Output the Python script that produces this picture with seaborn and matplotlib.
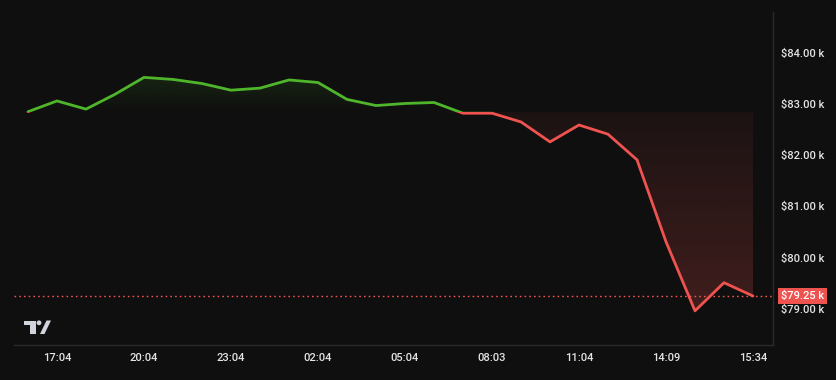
import numpy as np
import pandas as pd
import matplotlib
matplotlib.use("Agg")
import matplotlib.pyplot as plt
from matplotlib.patches import Rectangle, Polygon, Circle
import matplotlib.transforms as mtransforms
import seaborn as sns

# ---- data (price in $ thousands, hourly points) ----
prices = [82.85, 83.06, 82.90, 83.19, 83.52, 83.48, 83.40, 83.27, 83.31, 83.47,
          83.42, 83.09, 82.97, 83.01, 83.03, 82.82, 82.82, 82.65, 82.26, 82.59,
          82.41, 81.91, 80.31, 78.96, 79.51, 79.25]
tick_positions = [1, 4, 7, 10, 13, 16, 19, 22, 25]
tick_labels = ["17:04", "20:04", "23:04", "02:04", "05:04", "08:03", "11:04", "14:09", "15:34"]
y_ticks = [79, 80, 81, 82, 83, 84]
last_price = 79.25

BG = "#0f0f0f"
GREEN = "#4fb52b"
RED = "#ef5350"
TXT = "#e4e4e4"
GRIDC = "#2a2a2a"

sns.set_theme(style="dark")
plt.rcParams["font.family"] = ["Roboto", "DejaVu Sans"]

df = pd.DataFrame({"i": np.arange(len(prices)), "price": prices})
baseline = prices[0]

W, H = 837, 380
fig = plt.figure(figsize=(W / 100, H / 100), dpi=100, facecolor=BG)
left, right, top, bottom = 14, 773, 12, 345
ax = fig.add_axes([left / W, 1 - bottom / H, (right - left) / W, (bottom - top) / H])
ax.set_facecolor(BG)

ymin, ymax = 78.293, 84.797
xmin, xmax = -0.483, 25.69
ax.set_xlim(xmin, xmax)
ax.set_ylim(ymin, ymax)

x = df["i"].to_numpy(dtype=float)
y = df["price"].to_numpy()

# ---- gradient fills ----
ytop = max(prices)
grad_g = np.linspace(0.0, 0.13, 256).reshape(-1, 1)
rgba_g = np.zeros((256, 1, 4))
rgba_g[..., :3] = matplotlib.colors.to_rgb(GREEN)
rgba_g[..., 3] = grad_g
im_g = ax.imshow(rgba_g, extent=[xmin, xmax, baseline, ytop], origin="lower",
                 aspect="auto", zorder=1, interpolation="bilinear")
clip_g = Polygon(np.column_stack([np.r_[x, x[::-1]], np.r_[np.maximum(y, baseline), np.full_like(y, baseline)]]),
                 closed=True, transform=ax.transData)
im_g.set_clip_path(clip_g)

ybot = min(prices)
grad_r = np.linspace(0.22, 0.06, 256).reshape(-1, 1)
rgba_r = np.zeros((256, 1, 4))
rgba_r[..., :3] = matplotlib.colors.to_rgb(RED)
rgba_r[..., 3] = grad_r
im_r = ax.imshow(rgba_r, extent=[xmin, xmax, ybot, baseline], origin="lower",
                 aspect="auto", zorder=1, interpolation="bilinear")
clip_r = Polygon(np.column_stack([np.r_[x, x[::-1]], np.r_[np.minimum(y, baseline), np.full_like(y, baseline)]]),
                 closed=True, transform=ax.transData)
im_r.set_clip_path(clip_r)
ax.set_xlim(xmin, xmax)
ax.set_ylim(ymin, ymax)

# ---- lines: same line, clipped above / below baseline ----
sns.lineplot(data=df, x="i", y="price", ax=ax, color=GREEN, linewidth=2.0, zorder=3)
line_g = ax.lines[-1]
sns.lineplot(data=df, x="i", y="price", ax=ax, color=RED, linewidth=2.0, zorder=3)
line_r = ax.lines[-1]
line_g.set_clip_path(Rectangle((xmin, baseline), xmax - xmin, ymax - baseline, transform=ax.transData))
line_r.set_clip_path(Rectangle((xmin, ymin), xmax - xmin, baseline - ymin, transform=ax.transData))
line_g.set_solid_joinstyle("round")
line_r.set_solid_joinstyle("round")

# last price dotted line
ax.axhline(last_price, color=RED, linestyle=(0, (1.2, 2.2)), linewidth=1.0, zorder=2)

# ---- axes styling ----
ax.set_xlabel("")
ax.set_ylabel("")
ax.grid(False)
for s in ["top", "left"]:
    ax.spines[s].set_visible(False)
for s in ["right", "bottom"]:
    ax.spines[s].set_visible(True)
    ax.spines[s].set_color(GRIDC)
    ax.spines[s].set_linewidth(1.0)

ax.yaxis.tick_right()
ax.set_yticks(y_ticks)
ax.set_yticklabels([f"${v:.2f} k" for v in y_ticks])
ax.set_xticks(tick_positions)
ax.set_xticklabels(tick_labels)
ax.tick_params(axis="both", length=0, colors=TXT, labelsize=8)
ax.tick_params(axis="y", pad=6)
ax.tick_params(axis="x", pad=6)
for lab in ax.get_xticklabels() + ax.get_yticklabels():
    lab.set_fontweight("medium")

# last price label
tr = mtransforms.blended_transform_factory(ax.transAxes, ax.transData)
ax.text(1.0 + 8 / (right - left), last_price, f"${last_price:.2f} k", transform=tr,
        ha="left", va="center", fontsize=8, color="white", fontweight="medium",
        zorder=10, clip_on=False,
        bbox=dict(boxstyle="square,pad=0.28", facecolor=RED, edgecolor="none"))

# ---- TradingView-like logo (decoration) ----
LC = "#d1d4dc"
def fy(v):
    return H - v
fig.patches.append(Rectangle((24, fy(325)), 12, 4.5, transform=None, facecolor=LC, edgecolor="none", figure=fig))
fig.patches.append(Rectangle((30, fy(334)), 5.5, 13, transform=None, facecolor=LC, edgecolor="none", figure=fig))
fig.patches.append(Circle((39, fy(322.8)), 2.4, transform=None, facecolor=LC, edgecolor="none", figure=fig))
fig.patches.append(Polygon([(40, fy(334)), (44.5, fy(334)), (51, fy(320.5)), (46.5, fy(320.5))],
                           closed=True, transform=None, facecolor=LC, edgecolor="none", figure=fig))

fig.savefig("out.png", dpi=100, facecolor=BG)
